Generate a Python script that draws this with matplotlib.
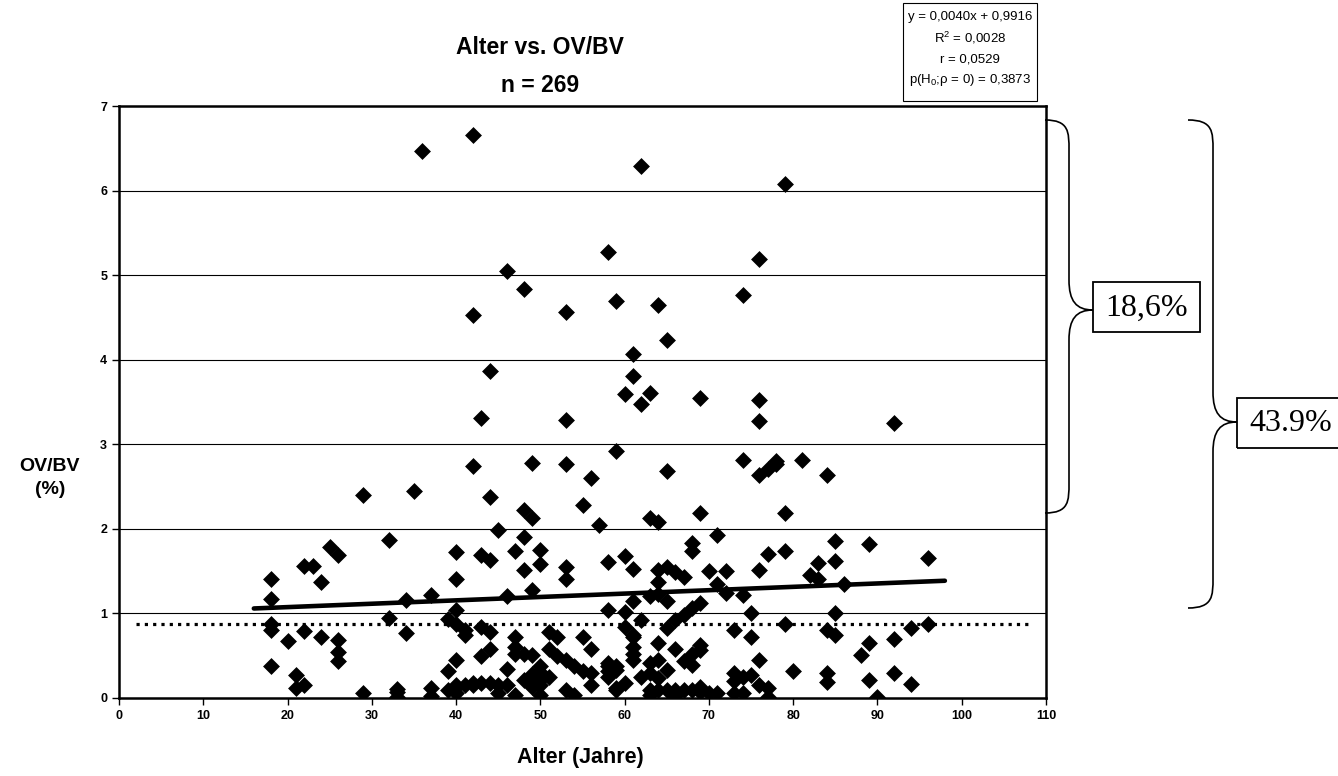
import matplotlib
matplotlib.use("Agg")
import matplotlib.pyplot as plt
from matplotlib.patches import PathPatch, Rectangle
from matplotlib.path import Path

plt.rcParams["font.family"] = ["Liberation Sans", "DejaVu Sans"]
plt.rcParams["mathtext.fontset"] = "custom"
plt.rcParams["mathtext.rm"] = "Liberation Sans"
plt.rcParams["mathtext.it"] = "Liberation Sans:italic"

# Alter (Jahre) und die dazugehoerigen OV/BV-Werte (%)
alter = [18, 20, 21, 22, 23, 24, 25, 26, 29, 32, 33, 34, 35, 36, 37, 39, 40, 41,
         42, 43, 44, 45, 46, 47, 48, 49, 50, 51, 52, 53, 54, 55, 56, 57, 58, 59,
         60, 61, 62, 63, 64, 65, 66, 67, 68, 69, 70, 71, 72, 73, 74, 75, 76, 77,
         78, 79, 80, 81, 82, 83, 84, 85, 86, 88, 89, 90, 92, 94, 96]
ovbv = [
    [1.40, 1.17, 0.87, 0.80, 0.38],
    [0.67],
    [0.27, 0.12],
    [1.56, 0.79, 0.15],
    [1.56],
    [1.37, 0.72],
    [1.78],
    [1.69, 0.68, 0.54, 0.43],
    [2.40, 0.05],
    [1.86, 0.94],
    [0.10, 0.07, 0.01],
    [1.16, 0.76],
    [2.44],
    [6.47],
    [1.22, 0.12, 0.02],
    [0.93, 0.31, 0.09],
    [1.72, 1.41, 1.04, 0.87, 0.45, 0.15, 0.13, 0.06],
    [0.80, 0.74, 0.15],
    [6.66, 4.53, 2.74, 0.17, 0.15],
    [3.31, 1.69, 0.84, 0.49, 0.17],
    [3.87, 2.37, 1.63, 0.78, 0.58, 0.17],
    [1.98, 0.15, 0.05],
    [5.05, 1.20, 0.34, 0.15],
    [1.74, 0.72, 0.60, 0.52, 0.03],
    [4.84, 2.22, 1.90, 1.51, 0.52, 0.21],
    [2.78, 2.12, 1.27, 0.51, 0.28, 0.25, 0.13],
    [1.75, 1.58, 0.37, 0.30, 0.25, 0.21, 0.15, 0.03],
    [0.78, 0.58, 0.24],
    [0.72, 0.49],
    [4.56, 3.28, 2.77, 1.55, 1.41, 0.45, 0.09],
    [0.37, 0.03],
    [2.28, 0.72, 0.31],
    [2.60, 0.58, 0.29, 0.15],
    [2.04],
    [5.27, 1.61, 1.04, 0.41, 0.38, 0.32, 0.25],
    [4.69, 2.92, 0.37, 0.33, 0.11, 0.09],
    [3.59, 1.68, 1.01, 0.84, 0.17],
    [4.07, 3.80, 1.52, 1.14, 0.74, 0.72, 0.60, 0.52, 0.45],
    [6.29, 3.48, 0.92, 0.25],
    [3.61, 2.13, 1.20, 0.41, 0.29, 0.09, 0.03],
    [4.64, 2.08, 1.51, 1.37, 1.23, 0.65, 0.45, 0.23, 0.09],
    [4.23, 2.68, 1.55, 1.14, 0.82, 0.33, 0.09],
    [1.49, 0.92, 0.58, 0.09, 0.02],
    [1.43, 0.98, 0.44, 0.09],
    [1.83, 1.73, 1.06, 0.52, 0.39, 0.09],
    [3.54, 2.18, 1.12, 0.62, 0.56, 0.13, 0.07],
    [1.50, 0.05],
    [1.93, 1.34, 0.05],
    [1.50, 1.24],
    [0.80, 0.29, 0.20, 0.05],
    [4.76, 2.81, 1.22, 0.25, 0.05],
    [1.00, 0.72, 0.27],
    [5.19, 3.52, 3.27, 2.64, 1.51, 0.45, 0.15],
    [2.70, 1.70, 0.11, 0.01],
    [2.76, 2.80],
    [6.08, 2.19, 1.74, 0.87],
    [0.32],
    [2.81],
    [1.45],
    [1.59, 1.40],
    [2.63, 0.80, 0.29, 0.18],
    [1.85, 1.62, 1.00, 0.74],
    [1.34],
    [0.50],
    [1.82, 0.65, 0.21],
    [0.01],
    [3.25, 0.69, 0.29],
    [0.82, 0.16],
    [1.65, 0.87],
]

# Regressionsgerade und Referenzlinie
steigung = 0.0040
achsenabschnitt = 0.9916
trend_x = [16, 98]
referenz_y = 0.87
referenz_x = [2, 108]

statistik = [
    "y = 0,0040x + 0,9916",
    r"R$^2$ = 0,0028",
    "r = 0,0529",
    r"p(H$_0$;ρ = 0) = 0,3873",
]
anteile = ["18,6%", "43.9%"]

W, H = 1338, 776


def fx(x):
    return x / W


def fy(y):
    return 1 - y / H


xs, ys = [], []
for a, werte in zip(alter, ovbv):
    for v in werte:
        xs.append(a)
        ys.append(v)

fig = plt.figure(figsize=(W / 100, H / 100), dpi=100)
ax = fig.add_axes([fx(119), fy(697.7), fx(1046) - fx(119), fy(106) - fy(697.7)])

ax.set_xlim(0, 110)
ax.set_ylim(0, 7)
ax.set_xticks(range(0, 111, 10))
ax.set_yticks(range(0, 8))
for y in range(1, 7):
    ax.axhline(y, color="black", lw=0.8, zorder=0)

ax.scatter(xs, ys, marker="D", s=74, color="black", linewidths=0, zorder=3)
ax.plot(trend_x, [steigung * x + achsenabschnitt for x in trend_x],
        color="black", lw=3.3, solid_capstyle="round", zorder=4)
ax.plot(referenz_x, [referenz_y, referenz_y], color="black", lw=2.3,
        linestyle=(0, (1, 1.6)), zorder=2)

for s in ax.spines.values():
    s.set_linewidth(1.8)
ax.tick_params(direction="out", length=5, width=1, labelsize=9)
for lab in ax.get_xticklabels() + ax.get_yticklabels():
    lab.set_fontweight("bold")

fig.text(fx(540), fy(48), "Alter vs. OV/BV", ha="center", va="center",
         fontsize=16.5, fontweight="bold")
fig.text(fx(540), fy(85), "n = 269", ha="center", va="center",
         fontsize=16.5, fontweight="bold")
fig.text(fx(50), fy(478), "OV/BV\n(%)", ha="center", va="center",
         fontsize=14, fontweight="bold", linespacing=1.5)
fig.text(fx(580), fy(757), "Alter (Jahre)", ha="center", va="center",
         fontsize=15.5, fontweight="bold")

# Statistik-Kasten oben rechts
fig.patches.append(Rectangle((fx(903), fy(101)), fx(1037) - fx(903), fy(3) - fy(101),
                             transform=fig.transFigure, fill=False, lw=0.8,
                             edgecolor="black"))
for i, zeile in enumerate(statistik):
    fig.text(fx(970), fy(17 + i * 21), zeile, ha="center", va="center", fontsize=9.5)


def klammer(x0, x1, x2, y_oben, y_unten, y_spitze, r=30):
    codes = [Path.MOVETO, Path.CURVE4, Path.CURVE4, Path.CURVE4,
             Path.LINETO,
             Path.CURVE4, Path.CURVE4, Path.CURVE4,
             Path.CURVE4, Path.CURVE4, Path.CURVE4,
             Path.LINETO,
             Path.CURVE4, Path.CURVE4, Path.CURVE4]
    pts = [(x0, y_oben),
           (x1, y_oben), (x1, y_oben + r * 0.4), (x1, y_oben + r),
           (x1, y_spitze - r),
           (x1, y_spitze - r * 0.3), (x1 + (x2 - x1) * 0.3, y_spitze), (x2, y_spitze),
           (x1 + (x2 - x1) * 0.3, y_spitze), (x1, y_spitze + r * 0.3), (x1, y_spitze + r),
           (x1, y_unten - r),
           (x1, y_unten - r * 0.4), (x1, y_unten), (x0, y_unten)]
    pts = [(fx(a), fy(b)) for a, b in pts]
    fig.patches.append(PathPatch(Path(pts, codes), transform=fig.transFigure,
                                 fill=False, lw=1.2, edgecolor="black"))


klammer(1045, 1069, 1093, 120, 513, 310)
klammer(1188, 1213, 1237, 120, 608, 422)

for (x0, y0, x1, y1), txt in zip([(1093, 282, 1200, 332), (1237, 398, 1345, 448)], anteile):
    fig.patches.append(Rectangle((fx(x0), fy(y1)), fx(x1) - fx(x0), fy(y0) - fy(y1),
                                 transform=fig.transFigure, fill=False, lw=1.3,
                                 edgecolor="black"))
    fig.text(fx(x0 + 54), fy((y0 + y1) / 2 + 1), txt, ha="center", va="center",
             fontsize=23, family=["Liberation Serif", "DejaVu Serif"])

fig.savefig("out.png", dpi=100)
